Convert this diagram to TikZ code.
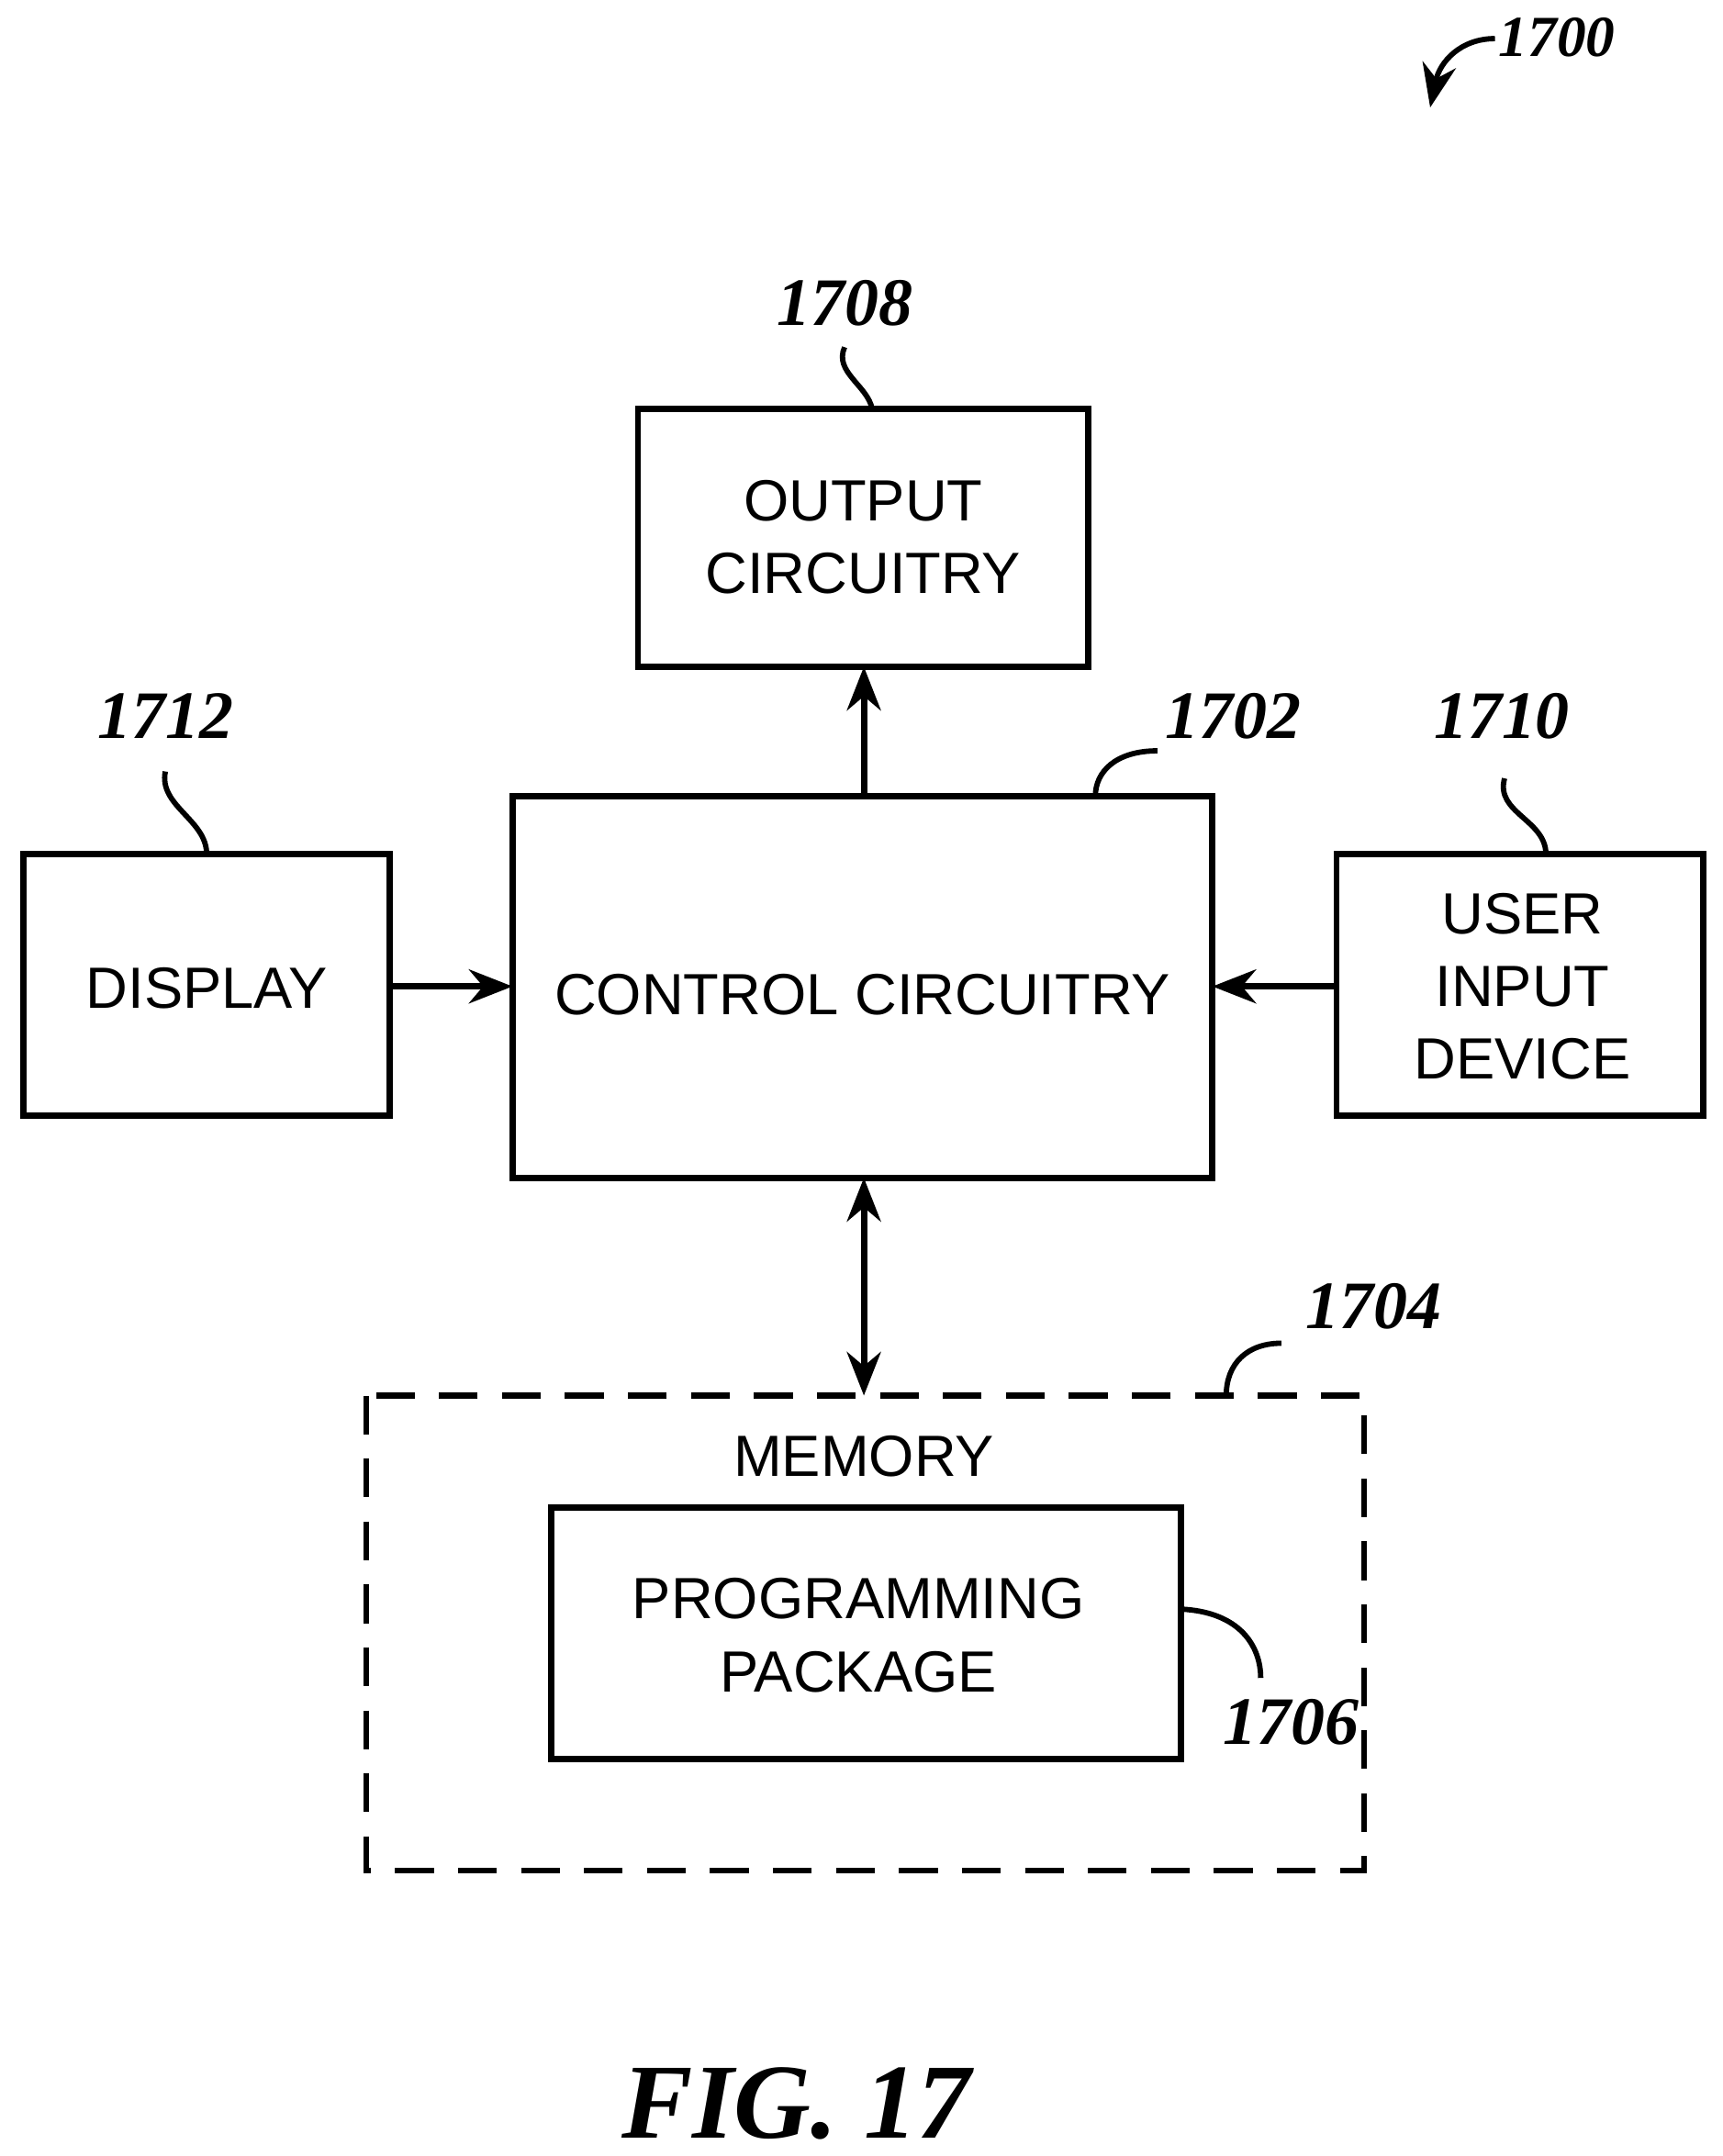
\documentclass[tikz,border=0pt]{standalone}
\usepackage{fontspec}
\setmainfont{Liberation Serif}
\newfontfamily\boxfont{Liberation Sans}
\usetikzlibrary{arrows.meta}
\begin{document}
\begin{tikzpicture}[x=0.01cm,y=-0.01cm,
 box/.style={align=center,font=\boxfont\fontsize{12}{15}\selectfont,inner sep=0},
 frame/.style={line width=1.3pt},
 lab/.style={font=\bfseries\itshape\fontsize{14}{17}\selectfont},
 lead/.style={line width=1.1pt},
 arr/.style={line width=1.3pt,-{Stealth[length=9pt,width=7pt]}}]
\useasboundingbox (0,0) rectangle (1250,1565);
\draw[frame] (463,297) rectangle (790,484);
\node[box] (outt) at (626.5,390) {OUTPUT\\CIRCUITRY};
\coordinate (outS) at (627,484);
\draw[frame] (372,578) rectangle (880,855);
\node[box] (ctl) at (626,722) {CONTROL CIRCUITRY};
\coordinate (ctlN) at (627,578); \coordinate (ctlS) at (627,855);
\coordinate (ctlW) at (372,716); \coordinate (ctlE) at (880,716);
\draw[frame] (17,620) rectangle (283,810);
\node[box] (disp) at (150,717) {DISPLAY};
\coordinate (dispE) at (283,716);
\draw[frame] (970,620) rectangle (1236,810);
\node[box] (usr) at (1105,716) {USER\\INPUT\\DEVICE};
\coordinate (usrW) at (970,716);
\draw[line width=1.2pt,dash pattern=on 8pt off 5pt] (266,1013) rectangle (990,1358);
\coordinate (memN) at (627,1013);
\node[box] (mem) at (627,1057) {MEMORY};
\draw[frame] (400,1094) rectangle (857,1277);
\node[box] (prog) at (623,1187) {PROGRAMMING\\PACKAGE};
\draw[arr] (ctlN) -- (outS);
\draw[arr] (dispE) -- (ctlW);
\draw[arr] (usrW) -- (ctlE);
\draw[arr,{Stealth[length=9pt,width=7pt]}-{Stealth[length=9pt,width=7pt]}] (ctlS) -- (memN);
\node[lab] (l1708) at (613,220) {1708};
\node[lab] (l1712) at (120,520) {1712};
\node[lab] (l1702) at (895,520) {1702};
\node[lab] (l1710) at (1090,520) {1710};
\node[lab] (l1704) at (997,948) {1704};
\node[lab] (l1706) at (937,1250) {1706};
\node[font=\bfseries\itshape\fontsize{12}{14}\selectfont] (l1700) at (1130,27) {1700};
\node[font=\bfseries\itshape\fontsize{22}{26}\selectfont] (fig) at (578,1527) {FIG. 17};
\coordinate (a1) at (613,252); \coordinate (b1) at (633,297);
\draw[lead] (a1) .. controls (605,270) and (630,280) .. (b1);
\coordinate (a2) at (120,560); \coordinate (b2) at (150,620);
\draw[lead] (a2) .. controls (115,585) and (150,595) .. (b2);
\coordinate (a3) at (840,545); \coordinate (b3) at (795,578);
\draw[lead] (a3) .. controls (810,545) and (795,560) .. (b3);
\coordinate (a4) at (1092,565); \coordinate (b4) at (1122,620);
\draw[lead] (a4) .. controls (1085,590) and (1122,595) .. (b4);
\coordinate (a5) at (930,975); \coordinate (b5) at (890,1013);
\draw[lead] (a5) .. controls (905,975) and (890,990) .. (b5);
\coordinate (a6) at (857,1168); \coordinate (b6) at (915,1218);
\draw[lead] (a6) .. controls (900,1170) and (915,1195) .. (b6);
\coordinate (a7) at (1085,28); \coordinate (b7) at (1038,78);
\draw[lead,-{Stealth[length=9pt,width=7pt]}] (a7) .. controls (1060,28) and (1045,45) .. (b7);
\end{tikzpicture}
\end{document}
